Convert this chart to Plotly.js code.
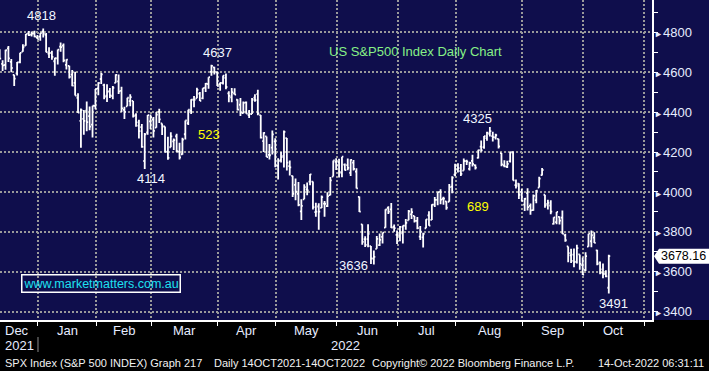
<!DOCTYPE html>
<html><head><meta charset="utf-8">
<script src="https://cdn.plot.ly/plotly-3.0.1.min.js"></script>
<style>html,body{margin:0;padding:0;background:#000;}#chart{width:709px;height:371px;}</style>
</head><body><div id="chart"></div>
<script>
// ---------- DATA ----------
const dates = [
 '2021-12-13','2021-12-14','2021-12-15','2021-12-16','2021-12-17','2021-12-20','2021-12-21','2021-12-22','2021-12-23','2021-12-27','2021-12-28','2021-12-29','2021-12-30','2021-12-31',
 '2022-01-03','2022-01-04','2022-01-05','2022-01-06','2022-01-07','2022-01-10','2022-01-11','2022-01-12','2022-01-13','2022-01-14','2022-01-18','2022-01-19','2022-01-20','2022-01-21','2022-01-24','2022-01-25','2022-01-26','2022-01-27','2022-01-28','2022-01-31',
 '2022-02-01','2022-02-02','2022-02-03','2022-02-04','2022-02-07','2022-02-08','2022-02-09','2022-02-10','2022-02-11','2022-02-14','2022-02-15','2022-02-16','2022-02-17','2022-02-18','2022-02-22','2022-02-23','2022-02-24','2022-02-25','2022-02-28',
 '2022-03-01','2022-03-02','2022-03-03','2022-03-04','2022-03-07','2022-03-08','2022-03-09','2022-03-10','2022-03-11','2022-03-14','2022-03-15','2022-03-16','2022-03-17','2022-03-18','2022-03-21','2022-03-22','2022-03-23','2022-03-24','2022-03-25','2022-03-28','2022-03-29','2022-03-30','2022-03-31',
 '2022-04-01','2022-04-04','2022-04-05','2022-04-06','2022-04-07','2022-04-08','2022-04-11','2022-04-12','2022-04-13','2022-04-14','2022-04-18','2022-04-19','2022-04-20','2022-04-21','2022-04-22','2022-04-25','2022-04-26','2022-04-27','2022-04-28','2022-04-29',
 '2022-05-02','2022-05-03','2022-05-04','2022-05-05','2022-05-06','2022-05-09','2022-05-10','2022-05-11','2022-05-12','2022-05-13','2022-05-16','2022-05-17','2022-05-18','2022-05-19','2022-05-20','2022-05-23','2022-05-24','2022-05-25','2022-05-26','2022-05-27','2022-05-31',
 '2022-06-01','2022-06-02','2022-06-03','2022-06-06','2022-06-07','2022-06-08','2022-06-09','2022-06-10','2022-06-13','2022-06-14','2022-06-15','2022-06-16','2022-06-17','2022-06-21','2022-06-22','2022-06-23','2022-06-24','2022-06-27','2022-06-28','2022-06-29','2022-06-30',
 '2022-07-01','2022-07-05','2022-07-06','2022-07-07','2022-07-08','2022-07-11','2022-07-12','2022-07-13','2022-07-14','2022-07-15','2022-07-18','2022-07-19','2022-07-20','2022-07-21','2022-07-22','2022-07-25','2022-07-26','2022-07-27','2022-07-28','2022-07-29',
 '2022-08-01','2022-08-02','2022-08-03','2022-08-04','2022-08-05','2022-08-08','2022-08-09','2022-08-10','2022-08-11','2022-08-12','2022-08-15','2022-08-16','2022-08-17','2022-08-18','2022-08-19','2022-08-22','2022-08-23','2022-08-24','2022-08-25','2022-08-26','2022-08-29','2022-08-30','2022-08-31',
 '2022-09-01','2022-09-02','2022-09-06','2022-09-07','2022-09-08','2022-09-09','2022-09-12','2022-09-13','2022-09-14','2022-09-15','2022-09-16','2022-09-19','2022-09-20','2022-09-21','2022-09-22','2022-09-23','2022-09-26','2022-09-27','2022-09-28','2022-09-29','2022-09-30',
 '2022-10-03','2022-10-04','2022-10-05','2022-10-06','2022-10-07','2022-10-10','2022-10-11','2022-10-12','2022-10-13'
];
const opens = [
 4710,4642,4636,4719,4652,4587,4594,4650,4703,4733,4795,4788,4794,4775,
 4778,4804,4787,4693,4697,4655,4669,4728,4733,4637,4632,4588,4547,4472,4356,4366,4408,4380,4337,4431,
 4519,4566,4535,4482,4505,4480,4547,4554,4506,4412,4429,4455,4456,4385,4332,4325,4155,4298,4354,
 4363,4322,4401,4343,4328,4202,4224,4253,4279,4202,4189,4289,4345,4407,4462,4469,4493,4469,4522,4541,4602,4624,4599,
 4540,4547,4572,4494,4474,4494,4462,4437,4395,4449,4385,4390,4473,4490,4385,4255,4278,4186,4222,4253,
 4131,4159,4181,4270,4129,4081,4035,3990,3903,3963,4013,4052,4052,3899,3927,3920,3942,3929,3984,4077,4151,
 4149,4096,4137,4134,4096,4147,4102,3975,3838,3763,3764,3729,3666,3715,3734,3775,3821,3920,3913,3825,3785,
 3781,3792,3831,3858,3888,3880,3855,3776,3772,3818,3883,3860,3936,3960,4000,3966,3953,3951,4027,4087,
 4112,4104,4107,4154,4116,4156,4134,4171,4227,4225,4270,4291,4280,4273,4266,4195,4133,4126,4154,4199,4034,4041,4000,
 3936,3994,3930,3909,3959,4022,4084,3986,3940,3932,3840,3849,3875,3871,3782,3727,3682,3686,3651,3687,3633,
 3609,3726,3753,3771,3707,3647,3595,3590,3520
];
const highs = [
 4715,4660,4712,4731,4666,4587,4651,4697,4740,4791,4807,4804,4808,4787,
 4796,4818.62,4797,4725,4707,4673,4714,4749,4744,4665,4632,4611,4602,4494,4418,4411,4453,4428,4432,4516,
 4550,4596,4542,4540,4521,4531,4590,4589,4527,4427,4472,4490,4456,4394,4362,4341,4295,4385,4388,
 4375,4401,4417,4343,4328,4277,4299,4268,4292,4247,4271,4358,4412,4465,4481,4522,4501,4520,4546,4575,4637.3,4627,4604,
 4548,4583,4594,4504,4521,4520,4464,4471,4453,4453,4411,4471,4489,4512,4385,4299,4278,4240,4308,4269,
 4169,4200,4308,4270,4157,4081,4068,4050,3964,4038,4047,4090,4052,3946,3943,3982,3955,3999,4075,4158,4169,
 4166,4177,4143,4168,4164,4160,4119,3977,3838,3778,3838,3729,3707,3779,3792,3796,3913,3928,3945,3837,3807,
 3829,3832,3864,3910,3918,3880,3874,3829,3796,3863,3903,3939,3975,3999,4013,3976,3953,4040,4079,4141,
 4144,4140,4167,4161,4151,4187,4137,4211,4258,4280,4302,4325.28,4302,4292,4266,4195,4159,4156,4200,4203,4062,4044,4015,
 3970,4018,3942,3987,4010,4076,4120,3986,3961,3959,3873,3900,3877,3907,3790,3727,3716,3717,3736,3687,3672,
 3698,3791,3807,3798,3710,3652,3641,3608,3685
];
const lows = [
 4667,4606,4612,4651,4600,4531,4583,4645,4703,4733,4781,4779,4775,4766,
 4758,4774,4700,4671,4663,4582,4638,4702,4650,4614,4568,4530,4483,4395,4222,4287,4304,4309,4273,4414,
 4484,4541,4465,4451,4471,4465,4547,4491,4401,4365,4429,4430,4373,4327,4268,4221,4114.65,4287,4316,
 4273,4322,4345,4285,4199,4161,4224,4210,4200,4162,4187,4263,4335,4390,4424,4469,4456,4465,4501,4517,4582,4589,4531,
 4507,4539,4514,4450,4450,4487,4408,4381,4393,4392,4371,4390,4452,4384,4268,4200,4175,4163,4188,4124,
 4062,4147,4123,4107,4082,3975,3958,3928,3859,3963,3983,4033,3912,3876,3811,3919,3876,3925,3984,4077,4110,
 4073,4074,4107,4109,4080,4107,4017,3900,3735,3724,3723,3639,3636.87,3715,3729,3742,3821,3889,3820,3800,3739,
 3753,3742,3810,3858,3865,3847,3813,3759,3722,3818,3831,3860,3924,3933,3938,3936,3911,3951,3993,4079,
 4097,4080,4107,4135,4107,4128,4112,4168,4201,4217,4256,4278,4253,4263,4218,4129,4124,4120,4147,4057,4017,3965,3954,
 3904,3907,3886,3906,3944,4022,4083,3921,3912,3888,3837,3838,3837,3789,3750,3648,3644,3623,3641,3610,3584,
 3604,3726,3723,3744,3633,3588,3568,3573,3491.58
];
const closes = [
 4668,4634,4710,4669,4621,4568,4649,4697,4725,4791,4786,4793,4778,4766,
 4796,4793,4701,4696,4677,4670,4713,4726,4659,4663,4577,4533,4483,4398,4410,4356,4350,4327,4432,4516,
 4546,4589,4477,4501,4484,4522,4587,4504,4419,4401,4472,4475,4380,4349,4305,4226,4288,4385,4374,
 4306,4387,4364,4329,4201,4171,4278,4260,4204,4173,4262,4358,4412,4463,4461,4511,4456,4520,4543,4575,4632,4602,4530,
 4546,4583,4526,4481,4500,4488,4413,4397,4446,4392,4391,4462,4460,4394,4272,4296,4175,4184,4288,4132,
 4155,4175,4301,4147,4123,3991,4001,3935,3930,4024,4008,4088,3924,3901,3901,3974,3941,3979,4058,4158,4132,
 4101,4177,4109,4121,4161,4116,4018,3901,3750,3735,3790,3667,3675,3765,3760,3796,3912,3901,3821,3819,3785,
 3825,3831,3845,3903,3899,3855,3819,3801,3790,3863,3831,3937,3960,3999,3962,3967,3921,4024,4072,4130,
 4119,4091,4155,4152,4145,4140,4122,4210,4208,4280,4297,4305,4275,4284,4228,4138,4128,4141,4199,4058,4031,3986,3955,
 3966,3924,3908,3980,4006,4067,4110,3933,3946,3901,3873,3900,3856,3790,3758,3693,3655,3648,3719,3640,3586,
 3678,3791,3783,3745,3640,3612,3589,3577,3678.16
];
const monthLabels   = ['Dec','Jan','Feb','Mar','Apr','May','Jun','Jul','Aug','Sep','Oct'];
const monthSessions = [22,20,19,23,20,21,21,20,23,21,21];
const yearLabels = ['2021','2022'];
const yTicks = [3400,3600,3800,4000,4200,4400,4600,4800];
const calloutDates  = ['2022-01-04','2022-03-29','2022-02-24','2022-06-17','2022-08-16','2022-10-13'];
const calloutFields = ['high','high','low','low','high','low'];
const titleText = 'US S&P500 Index Daily Chart';
const siteText = 'www.marketmatters.com.au';
const footerLeft = 'SPX Index (S&P 500 INDEX) Graph 217';
const footerMid = 'Daily 14OCT2021-14OCT2022';
const footerCopy = 'Copyright\u00A9 2022 Bloomberg Finance L.P.';
const footerTime = '14-Oct-2022 06:31:11';

// ---------- BUILD ----------
const FONT = '"Liberation Sans", Arial, sans-serif';
const NAVY = '#0f0e4c';
const GRID = '#9a9a9a';
const OFF = 0.8;
const nDec = dates.filter(d => d.startsWith('2021')).length;
const xs = dates.map((d, i) => i - nDec);
const XR = [-13.9, 210.9];
const YR = [3358.4, 4961.8];
const PW = 652, PH = 320;
const pxPerY = PH / (YR[1] - YR[0]);

let s = -monthSessions[0];
const starts = [];
monthSessions.forEach(n => { starts.push(s); s += n; });
const monthEnd = s;
const bounds = starts.slice(1).concat([monthEnd]).map(v => v - OFF);

const annotations = [];
monthLabels.forEach((m, k) => {
  const left = starts[k] - OFF, right = starts[k] + monthSessions[k] - OFF;
  const a = {xref:'x', yref:'paper', y:-0.034, text:m, showarrow:false,
    font:{family:FONT, size:13, color:'#e6ecff'}, yanchor:'middle'};
  if (left < XR[0]) { a.x = XR[0]; a.xanchor = 'left'; a.xshift = 3; }
  else { a.x = (left + right) / 2; a.xanchor = 'center'; }
  annotations.push(a);
});
annotations.push({xref:'x', yref:'paper', x:XR[0], xshift:3, xanchor:'left', y:-0.081, yanchor:'middle',
  text:yearLabels[0], showarrow:false, font:{family:FONT, size:13, color:'#e6ecff'}});
annotations.push({xref:'x', yref:'paper', x:(bounds[0] + XR[1]) / 2, xanchor:'center', y:-0.081, yanchor:'middle',
  text:yearLabels[1], showarrow:false, font:{family:FONT, size:13, color:'#e6ecff'}});
const fy = (PH - 363) / PH;
[[footerLeft, 3, 'left'], [footerMid, 212, 'left'], [footerCopy, 370, 'left'], [footerTime, 706, 'right']].forEach(f => {
  annotations.push({xref:'paper', yref:'paper', x:f[1] / PW, xanchor:f[2], y:fy, yanchor:'middle',
    text:f[0], showarrow:false, font:{family:FONT, size:11, color:'#f2f2f2'}});
});
const shifts = [[-2, 13], [6, 12], [6, -9.5], [-20, -1.5], [-12, 8.6], [5, -10]];
const calloutVals = [];
calloutDates.forEach((d, k) => {
  const i = dates.indexOf(d);
  const v = calloutFields[k] === 'high' ? highs[i] : lows[i];
  calloutVals.push(Math.floor(v));
  annotations.push({xref:'x', yref:'y', x:xs[i], y:v, xshift:shifts[k][0], yshift:shifts[k][1],
    xanchor:'center', yanchor:'middle', text:String(Math.floor(v)), showarrow:false,
    font:{family:FONT, size:13, color:'#f2f6ff'}});
});
annotations.push({xref:'x', yref:'y', x:58.0, y:4290, text:String(calloutVals[1] - calloutVals[2]), showarrow:false,
  font:{family:FONT, size:13, color:'#ffff00'}});
annotations.push({xref:'x', yref:'y', x:150.9, y:3927, text:String(calloutVals[4] - calloutVals[3]), showarrow:false,
  font:{family:FONT, size:13, color:'#ffff00'}});
annotations.push({xref:'paper', yref:'paper', x:415 / PW, y:(PH - 51) / PH, xanchor:'center', yanchor:'middle',
  text:titleText, showarrow:false, font:{family:FONT, size:13, color:'#86f086'}});
annotations.push({xref:'paper', yref:'paper', x:101 / PW, y:(PH - 283) / PH, xanchor:'center', yanchor:'middle',
  text:siteText, showarrow:false, font:{family:FONT, size:12.5, color:'#1ee0f0'},
  bordercolor:'#ffffff', borderwidth:1.5, borderpad:1});
const last = closes[closes.length - 1];
annotations.push({xref:'paper', yref:'y', x:659 / PW, y:last, xanchor:'left', yanchor:'middle',
  text:last.toFixed(2), showarrow:false, font:{family:FONT, size:12.5, color:'#000000'}});

const h = 7.5 / pxPerY;
const shapes = [
  {type:'rect', xref:'paper', yref:'paper', x0:1, x1:720 / PW, y0:0, y1:1, fillcolor:NAVY, line:{width:0}, layer:'below'},
  {type:'path', xref:'paper', yref:'y', fillcolor:'#ffffff', line:{width:0},
   path:`M${654/PW},${last} L${659/PW},${last + h} L${720/PW},${last + h} L${720/PW},${last - h} L${659/PW},${last - h} Z`},
  {type:'line', xref:'x', yref:'paper', x0:bounds[0], x1:bounds[0], y0:(PH - 337) / PH, y1:(PH - 352) / PH,
   line:{color:'#8a8a8a', width:1}}
];

const trace = {
  type:'ohlc', x:xs, open:opens, high:highs, low:lows, close:closes,
  increasing:{line:{color:'#ffffff', width:1.8}},
  decreasing:{line:{color:'#ffffff', width:1.8}},
  tickwidth:0.5, hoverinfo:'skip'
};

const layout = {
  width:709, height:371,
  margin:{l:0, r:57, t:0, b:51, pad:0},
  paper_bgcolor:'#000000', plot_bgcolor:NAVY,
  showlegend:false,
  font:{family:FONT, size:13, color:'#e6ecff'},
  xaxis:{range:XR, tickmode:'array', tickvals:bounds, ticktext:bounds.map(() => ''),
    ticks:'outside', ticklen:4, tickcolor:'#ffffff', tickwidth:1,
    showline:true, linecolor:'#ffffff', linewidth:1.5,
    showgrid:true, gridcolor:GRID, griddash:'2px,2px', gridwidth:2,
    zeroline:false, rangeslider:{visible:false}, fixedrange:true},
  yaxis:{side:'right', range:YR, tickmode:'array', tickvals:yTicks,
    ticktext:yTicks.map(v => '<span style="font-size:9px">\u25BA</span>' + v),
    ticks:'', ticklabelstandoff:-2, showline:true, linecolor:'#ffffff', linewidth:1.5,
    showgrid:true, gridcolor:GRID, griddash:'2px,2px', gridwidth:2, zeroline:false,
    tickfont:{family:FONT, size:13, color:'#e6ecff'},
    minor:{tickmode:'linear', tick0:3300, dtick:100, ticks:'outside', ticklen:4, tickcolor:'#ffffff', tickwidth:1, showgrid:false},
    fixedrange:true},
  shapes:shapes,
  annotations:annotations
};

Plotly.newPlot('chart', [trace], layout, {displayModeBar:false, staticPlot:true});
</script>
</body></html>
